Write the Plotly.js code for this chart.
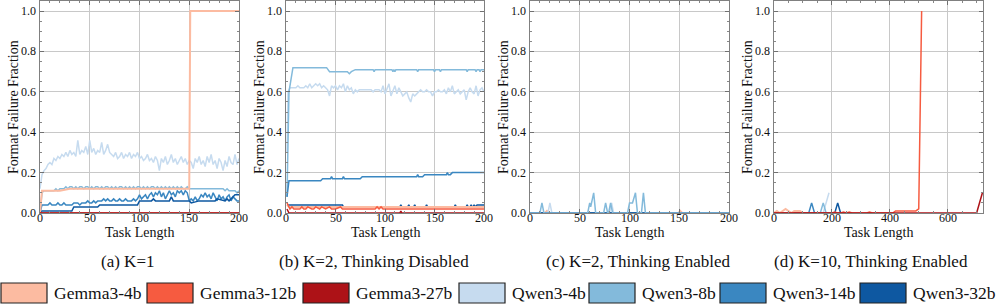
<!DOCTYPE html>
<html><head><meta charset="utf-8">
<script src="https://cdn.plot.ly/plotly-3.0.1.min.js"></script>
<style>html,body{margin:0;padding:0;background:#fff}#chart{width:996px;height:307px}</style>
</head><body><div id="chart"></div>
<script>
// ---------- categories ----------
const models = ["Gemma3-4b","Gemma3-12b","Gemma3-27b","Qwen3-4b","Qwen3-8b","Qwen3-14b","Qwen3-32b"];
const modelColors = ["#fcbba1","#f65b40","#ad1217","#c6dbef","#83badb","#3a87c1","#0e58a1"];
const panelCaptions = ["(a) K=1","(b) K=2, Thinking Disabled","(c) K=2, Thinking Enabled","(d) K=10, Thinking Enabled"];
const xAxisTitle = "Task Length";
const yAxisTitle = "Format Failure Fraction";
const yTickVals = [0,0.2,0.4,0.6,0.8,1.0];
const yTickText = ["0.0","0.2","0.4","0.6","0.8","1.0"];
const xTickValsShort = [0,50,100,150,200];
const xTickValsLong = [0,200,400,600];

// ---------- panel (a) K=1 ----------
const a_x = [0,2,4,6,8,10,12,14,16,18,20,22,24,26,28,30,32,34,36,38,40,42,44,46,48,50,52,54,56,58,60,62,64,66,68,70,72,74,76,78,80,82,84,86,88,90,92,94,96,98,100,102,104,106,108,110,112,114,116,118,120,122,124,126,128,130,132,134,136,138,140,142,144,146,148,150,152,154,156,158,160,162,164,166,168,170,172,174,176,178,180,182,184,186,188,190,192,194,196,198,200];
const a_qwen4b = [0.12,0.19,0.21,0.22,0.24,0.25,0.24,0.27,0.26,0.28,
 0.27,0.29,0.28,0.30,0.28,0.31,0.29,0.30,0.28,0.36,
 0.29,0.31,0.30,0.33,0.29,0.36,0.30,0.32,0.29,0.31,
 0.30,0.35,0.29,0.31,0.34,0.30,0.29,0.28,0.30,0.27,
 0.28,0.30,0.27,0.29,0.28,0.30,0.27,0.29,0.28,0.30,
 0.27,0.28,0.26,0.27,0.29,0.26,0.27,0.25,0.28,0.26,
 0.21,0.27,0.25,0.28,0.24,0.26,0.29,0.25,0.27,0.24,
 0.26,0.28,0.25,0.27,0.24,0.26,0.25,0.22,0.27,0.25,
 0.28,0.24,0.26,0.23,0.28,0.25,0.29,0.24,0.26,0.22,
 0.27,0.25,0.21,0.26,0.23,0.28,0.25,0.24,0.29,0.24,
 0.27];
const a_qwen8b = [0.00,0.10,0.11,0.11,0.11,0.11,0.11,0.11,0.12,0.11,
 0.12,0.12,0.12,0.13,0.12,0.13,0.13,0.12,0.13,0.12,
 0.13,0.13,0.12,0.13,0.13,0.12,0.13,0.12,0.13,0.13,
 0.12,0.13,0.12,0.13,0.13,0.12,0.13,0.12,0.13,0.12,
 0.13,0.13,0.12,0.13,0.12,0.13,0.12,0.13,0.12,0.13,
 0.13,0.12,0.13,0.12,0.13,0.12,0.13,0.13,0.12,0.13,
 0.12,0.13,0.12,0.13,0.12,0.13,0.12,0.13,0.12,0.13,
 0.12,0.13,0.12,0.12,0.13,0.12,0.12,0.12,0.12,0.12,
 0.12,0.12,0.12,0.12,0.12,0.12,0.12,0.12,0.12,0.12,
 0.12,0.12,0.12,0.11,0.12,0.11,0.11,0.11,0.11,0.10,
 0.11];
const a_qwen14b = [0.00,0.04,0.04,0.04,0.04,0.05,0.04,0.04,0.04,0.05,
 0.04,0.04,0.05,0.04,0.04,0.04,0.04,0.05,0.05,0.05,
 0.04,0.05,0.05,0.05,0.06,0.05,0.05,0.06,0.05,0.06,
 0.06,0.06,0.07,0.06,0.07,0.06,0.06,0.07,0.06,0.06,
 0.07,0.06,0.06,0.07,0.06,0.06,0.06,0.07,0.06,0.07,
 0.09,0.07,0.08,0.09,0.07,0.09,0.10,0.08,0.10,0.09,
 0.11,0.08,0.10,0.07,0.09,0.11,0.09,0.10,0.08,0.11,
 0.10,0.11,0.09,0.11,0.10,0.06,0.07,0.06,0.08,0.06,
 0.07,0.09,0.08,0.10,0.08,0.09,0.07,0.10,0.08,0.06,
 0.09,0.07,0.08,0.06,0.08,0.09,0.06,0.08,0.07,0.06,
 0.06];
const a_qwen32b_x = [0,2,32,34,58,60,98,100,112,114,116,118,130,132,134,150,152,160,162,176,178,186,188,190,194,196,200];
const a_qwen32b   = [0,0.01,0.01,0.03,0.03,0.04,0.04,0.06,0.06,0.07,0.06,0.06,0.06,0.08,0.06,0.06,0.05,0.06,0.06,0.06,0.07,0.06,0.07,0.06,0.08,0.09,0.09];
const a_gemma4b_x = [0,2,10,20,30,40,50,60,70,80,90,100,110,120,130,140,150,151,200];
const a_gemma4b   = [0,0.11,0.11,0.11,0.12,0.12,0.12,0.12,0.12,0.12,0.12,0.12,0.12,0.12,0.12,0.12,0.12,1.0,1.0];
const a_gemma12b_x = [0,200];
const a_gemma12b   = [0,0];
const a_gemma27b_x = [0,200];
const a_gemma27b   = [0,0];

// ---------- panel (b) K=2, thinking disabled ----------
const b_qwen8b_x = [1,3,7,41,44,62,64,66,70,88,89,90,107,108,109,110,111,132,133,134,149,150,151,155,156,157,182,183,184,191,192,193,195,196,197,200];
const b_qwen8b   = [0.08,0.60,0.72,0.72,0.70,0.70,0.69,0.70,0.71,0.71,0.70,0.71,0.71,0.70,0.71,0.70,0.71,0.71,0.70,0.71,0.71,0.70,0.71,0.71,0.70,0.71,0.71,0.70,0.71,0.71,0.70,0.71,0.71,0.70,0.71,0.71];
const b_qwen4b_x = [1,2,4,6,8,10,12,14,16,18,20,22,24,26,28,30,32,34,36,38,40,42,44,46,48,50,52,54,56,58,60,62,64,66,68,70,72,74,76,78,80,82,84,86,88,90,92,94,96,98,100,102,104,106,108,110,112,114,116,118,120,122,124,126,128,130,132,134,136,138,140,142,144,146,148,150,152,154,156,158,160,162,164,166,168,170,172,174,176,178,180,182,184,186,188,190,192,194,196,198,200];
const b_qwen4b = [0.30,
 0.60,0.62,0.62,0.62,0.62,0.63,0.62,0.62,0.62,0.63,
 0.62,0.64,0.62,0.63,0.64,0.63,0.64,0.62,0.63,0.62,
 0.61,0.58,0.63,0.62,0.63,0.61,0.63,0.62,0.64,0.60,
 0.63,0.61,0.62,0.59,0.61,0.60,0.61,0.61,0.61,0.61,
 0.61,0.61,0.61,0.60,0.61,0.61,0.61,0.60,0.63,0.59,
 0.62,0.64,0.58,0.61,0.63,0.59,0.62,0.60,0.58,0.59,
 0.60,0.57,0.55,0.59,0.58,0.59,0.60,0.61,0.60,0.60,
 0.61,0.60,0.60,0.58,0.60,0.60,0.61,0.60,0.60,0.61,
 0.59,0.62,0.60,0.63,0.59,0.60,0.61,0.59,0.60,0.61,
 0.56,0.60,0.62,0.60,0.59,0.63,0.58,0.61,0.62,0.60];
const b_qwen14b_x = [1,3,35,37,45,46,47,57,58,59,75,77,132,133,134,138,140,162,163,164,166,168,200];
const b_qwen14b   = [0.08,0.16,0.16,0.17,0.17,0.18,0.17,0.17,0.18,0.17,0.17,0.18,0.18,0.19,0.18,0.18,0.19,0.19,0.20,0.19,0.19,0.20,0.20];
const b_qwen32b_x = [1,57,58,115,116,117,123,124,125,129,130,131,141,142,143,170,171,172,182,183,184,186,187,188,189,190,191,193,200];
const b_qwen32b   = [0.04,0.04,0.03,0.03,0.04,0.03,0.03,0.04,0.03,0.03,0.04,0.03,0.03,0.04,0.03,0.03,0.04,0.03,0.03,0.04,0.03,0.03,0.04,0.03,0.03,0.04,0.03,0.04,0.04];
const b_gemma4b_x = [1,3,200];
const b_gemma4b   = [0.04,0.03,0.03];
const b_gemma12b_x = [1,4,6,8,10,14,16,18,20,22,26,28,30,34,36,40,44,46,50,55,57,60,80,90,92,94,96,98,100,200];
const b_gemma12b   = [0.05,0.02,0.03,0.02,0.02,0.02,0.03,0.02,0.02,0.03,0.02,0.02,0.03,0.02,0.03,0.02,0.03,0.02,0.02,0.03,0.02,0.02,0.02,0.02,0.03,0.02,0.03,0.02,0.02,0.02];
const b_gemma27b_x = [1,3,115,116,117,200];
const b_gemma27b   = [0.02,0.0,0.0,0.01,0.0,0.0];

// ---------- panel (c) K=2, thinking enabled ----------
const c_qwen8b_x = [0,10,12,14,58,60,61,64,66,74,76,78,79,81,83,98,100,103,106,108,112,114,116,200];
const c_qwen8b   = [0,0,0.05,0,0,0.05,0.03,0.10,0,0,0.05,0,0,0.05,0,0,0.05,0.05,0.10,0,0,0.10,0,0];
const c_qwen4b_x = [0,18,20,22,80,82,84,200];
const c_qwen4b   = [0,0,0.05,0,0,0.05,0,0];
const c_gemma4b_x = [0,15,17,19,149,151,153,200];
const c_gemma4b   = [0,0,0.01,0,0,0.01,0,0];
const c_zero_x = [0,200];
const c_zero   = [0,0];

// ---------- panel (d) K=10, thinking enabled ----------
const d_gemma4b_x = [0,10,20,30,40,50,60,70,80,90,100];
const d_gemma4b   = [0,0.01,0,0.01,0.02,0.01,0,0.01,0.01,0.01,0];
const d_gemma12b_x = [0,200,210,220,230,240,250,260,270,320,330,340,410,420,490,500,510];
const d_gemma12b   = [0,0,0.005,0,0,0.005,0,0.005,0,0,0.005,0,0,0.01,0.01,0.02,1.0];
const d_gemma27b_x = [0,700,720];
const d_gemma27b   = [0,0,0.1];
const d_qwen4b_x = [0,170,190];
const d_qwen4b   = [0,0,0.1];
const d_qwen8b_x = [0,160,170,180,200];
const d_qwen8b   = [0,0,0.05,0,0];
const d_qwen14b_x = [0,120,130,140,200];
const d_qwen14b   = [0,0,0.05,0,0];
const d_qwen32b_x = [0,210,220,230];
const d_qwen32b   = [0,0,0.05,0];

// ---------- assemble ----------
const panels = [
  {"Gemma3-4b":[a_gemma4b_x,a_gemma4b],"Gemma3-12b":[a_gemma12b_x,a_gemma12b],"Gemma3-27b":[a_gemma27b_x,a_gemma27b],
   "Qwen3-4b":[a_x,a_qwen4b],"Qwen3-8b":[a_x,a_qwen8b],"Qwen3-14b":[a_x,a_qwen14b],"Qwen3-32b":[a_qwen32b_x,a_qwen32b]},
  {"Gemma3-4b":[b_gemma4b_x,b_gemma4b],"Gemma3-12b":[b_gemma12b_x,b_gemma12b],"Gemma3-27b":[b_gemma27b_x,b_gemma27b],
   "Qwen3-4b":[b_qwen4b_x,b_qwen4b],"Qwen3-8b":[b_qwen8b_x,b_qwen8b],"Qwen3-14b":[b_qwen14b_x,b_qwen14b],"Qwen3-32b":[b_qwen32b_x,b_qwen32b]},
  {"Gemma3-4b":[c_gemma4b_x,c_gemma4b],"Gemma3-12b":[c_zero_x,c_zero],"Gemma3-27b":[c_zero_x,c_zero],
   "Qwen3-4b":[c_qwen4b_x,c_qwen4b],"Qwen3-8b":[c_qwen8b_x,c_qwen8b],"Qwen3-14b":[c_zero_x,c_zero],"Qwen3-32b":[c_zero_x,c_zero]},
  {"Gemma3-4b":[d_gemma4b_x,d_gemma4b],"Gemma3-12b":[d_gemma12b_x,d_gemma12b],"Gemma3-27b":[d_gemma27b_x,d_gemma27b],
   "Qwen3-4b":[d_qwen4b_x,d_qwen4b],"Qwen3-8b":[d_qwen8b_x,d_qwen8b],"Qwen3-14b":[d_qwen14b_x,d_qwen14b],"Qwen3-32b":[d_qwen32b_x,d_qwen32b]}
];
// draw order per panel (later = on top)
const orderGemmaTop = ["Qwen3-4b","Qwen3-8b","Qwen3-14b","Qwen3-32b","Gemma3-4b","Gemma3-12b","Gemma3-27b"];
const orderQwenTop  = ["Gemma3-4b","Gemma3-12b","Gemma3-27b","Qwen3-4b","Qwen3-14b","Qwen3-32b","Qwen3-8b"];
const panelOrders = [orderGemmaTop, orderGemmaTop, orderQwenTop, orderGemmaTop];

const W = 996, H = 307;
const fx = v => v / W;
const fy = v => 1 - v / H;
const SERIF = "Liberation Serif, Times New Roman, serif";

const traces = [];
panels.forEach((p, i) => {
  const suf = i === 0 ? "" : String(i + 1);
  panelOrders[i].forEach(m => {
    const d = p[m]; if (!d) return;
    const ci = models.indexOf(m);
    traces.push({x: d[0], y: d[1], type: "scatter", mode: "lines", name: m, showlegend: false,
      xaxis: "x" + suf, yaxis: "y" + suf, hoverinfo: "skip",
      line: {color: modelColors[ci], width: m === "Gemma3-4b" ? 2 : 1.5}});
  });
});

const xDomPx = [[40,239],[286,484],[530,729],[774,983]];
const PLOT_TOP = 1, PLOT_BOT = 213;
const layout = {width: W, height: H, margin: {l:0, r:0, t:0, b:0}, paper_bgcolor: "#fff", plot_bgcolor: "#fff",
  font: {family: SERIF, size: 12, color: "#111"}, showlegend: false, shapes: [], annotations: []};

const txt = (o) => Object.assign({showarrow: false, borderpad: 0, font: {family: SERIF, size: 12, color: "#111"}}, o);

xDomPx.forEach((dom, i) => {
  const suf = i === 0 ? "" : String(i + 1);
  const longX = i === 3;
  const xTicks = longX ? xTickValsLong : xTickValsShort;
  const axBase = {showgrid: true, gridcolor: "#c8c8c8", gridwidth: 1, showline: true, linecolor: "#808080",
    linewidth: 1, mirror: "ticks", ticks: "inside", ticklen: 4, tickcolor: "#707070", zeroline: false,
    showticklabels: false};
  layout["xaxis" + suf] = Object.assign({}, axBase, {
    domain: [fx(dom[0]), fx(dom[1])], anchor: "y" + suf, range: longX ? [0, 722] : [0, 200],
    tickvals: xTicks,
    minor: {ticks: "inside", ticklen: 2, tickcolor: "#888", dtick: longX ? 50 : 10, showgrid: false}});
  layout["yaxis" + suf] = Object.assign({}, axBase, {
    domain: [fy(PLOT_BOT), fy(PLOT_TOP)], anchor: "x" + suf, range: [0, 1.05],
    tickvals: yTickVals,
    minor: {ticks: "inside", ticklen: 2, tickcolor: "#888", dtick: 0.05, showgrid: false}});

  // tick labels placed through the axes' own scales
  xTicks.forEach(v => layout.annotations.push(txt({text: String(v), xref: "x" + suf, x: v,
    yref: "paper", y: fy(218), xanchor: "center", yanchor: "middle"})));
  yTickVals.forEach((v, k) => layout.annotations.push(txt({text: yTickText[k], xref: "paper", x: fx(dom[0] - 3),
    yref: "y" + suf, y: v, xanchor: "right", yanchor: "middle"})));
  // axis titles
  layout.annotations.push(txt({text: xAxisTitle, xref: "paper", x: fx((dom[0] + dom[1]) / 2),
    yref: "paper", y: fy(232.5), xanchor: "center", yanchor: "middle", font: {family: SERIF, size: 14, color: "#111"}}));
  layout.annotations.push(txt({text: yAxisTitle, textangle: -90, xref: "paper", x: fx(dom[0] - 26),
    yref: "paper", y: fy((PLOT_TOP + PLOT_BOT) / 2), xanchor: "center", yanchor: "middle",
    font: {family: SERIF, size: 14, color: "#111"}}));
});

const captionX = [128, 374, 638, 871];
panelCaptions.forEach((t, i) => {
  layout.annotations.push(txt({text: t, xref: "paper", yref: "paper", x: fx(captionX[i]), y: fy(261),
    xanchor: "center", yanchor: "middle", font: {family: SERIF, size: 17, color: "#111"}}));
});

const legendBoxX = [1, 147, 303, 459, 589, 720, 860];
models.forEach((m, i) => {
  const x0 = legendBoxX[i];
  layout.shapes.push({type: "rect", xref: "paper", yref: "paper", x0: fx(x0), x1: fx(x0 + 46),
    y0: fy(303), y1: fy(283), fillcolor: modelColors[i], line: {color: "#222", width: 1.2}});
  layout.annotations.push(txt({text: m, xref: "paper", yref: "paper", x: fx(x0 + 52), y: fy(293),
    xanchor: "left", yanchor: "middle", font: {family: SERIF, size: 17.5, color: "#111"}}));
});

Plotly.newPlot("chart", traces, layout, {staticPlot: true, displayModeBar: false});
</script></body></html>
